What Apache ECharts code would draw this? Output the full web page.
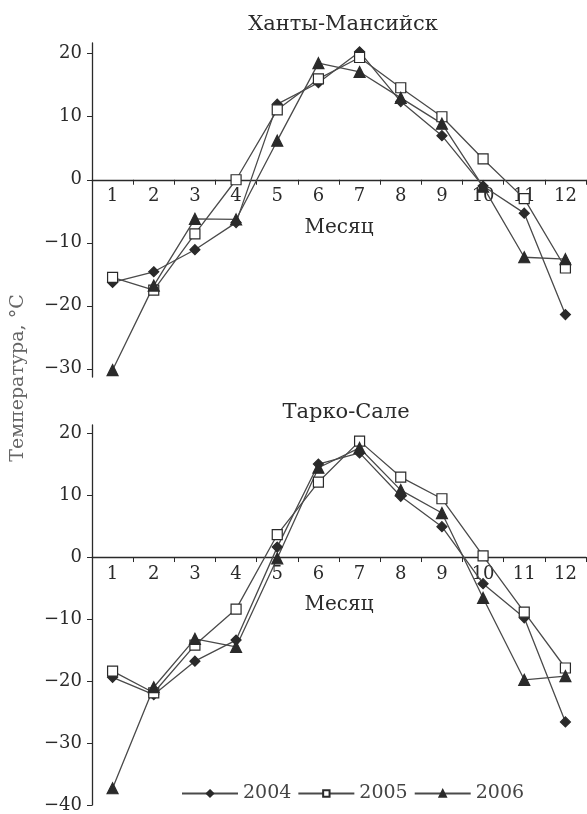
<!DOCTYPE html>
<html lang="ru">
<head>
<meta charset="UTF-8">
<title>Температура</title>
<script src="https://cdn.jsdelivr.net/npm/echarts@6/dist/echarts.min.js"></script>
<style>
  html, body { margin: 0; padding: 0; background: #fff; }
  #ChartId { width: 587px; height: 814px; }
</style>
</head>
<body>
<div id="ChartId"></div>
<script>
    // месяцы и подписи осей
    var months = ['1','2','3','4','5','6','7','8','9','10','11','12'];
    var yTicksTop = [-30, -20, -10, 0, 10, 20];
    var yTicksBottom = [-40, -30, -20, -10, 0, 10, 20];

    // Ханты-Мансийск
    var hm2004 = [-16.3, -14.6, -11.1, -6.8, 12.0, 15.4, 20.3, 12.4, 7.0, -1.0, -5.3, -21.4];
    var hm2005 = [-15.5, -17.5, -8.6, 0.0, 11.1, 16.0, 19.4, 14.6, 10.0, 3.3, -3.0, -14.0];
    var hm2006 = [-30.2, -16.8, -6.2, -6.3, 6.2, 18.5, 17.1, 13.0, 8.9, -1.1, -12.3, -12.6];

    // Тарко-Сале
    var ts2004 = [-19.4, -22.2, -16.8, -13.4, 1.6, 15.0, 16.8, 9.8, 4.9, -4.3, -9.8, -26.6];
    var ts2005 = [-18.4, -21.9, -14.2, -8.4, 3.6, 12.1, 18.7, 12.9, 9.4, 0.2, -8.9, -17.9];
    var ts2006 = [-37.3, -21.0, -13.2, -14.5, -0.2, 14.4, 17.6, 10.8, 7.1, -6.6, -19.8, -19.2];

    var FONT = '"DejaVu Serif", serif';
    var INK = '#2a2a2a';
    var LINE = '#4a4a4a';

    // границы шкал и высоты сеток
    var topRange = { min: -31.3, max: 21.7, top: 43, height: 334 };
    var botRange = { min: -40, max: 21.3, top: 425, height: 380 };

    function xAxisOf(idx, r) {
        // ось X проходит через ноль: сдвигаем её вверх на нужное расстояние
        var shift = (0 - r.min) / (r.max - r.min) * r.height;
        return {
            type: 'category',
            gridIndex: idx,
            data: months,
            position: 'bottom',
            offset: -shift,
            name: 'Месяц',
            nameLocation: 'middle',
            nameGap: 38,
            nameTextStyle: { fontFamily: FONT, fontSize: 20, color: INK },
            axisLine: { onZero: false, lineStyle: { color: INK, width: 1.3 } },
            axisTick: { show: true, length: 5, lineStyle: { color: INK } },
            axisLabel: { fontFamily: FONT, fontSize: 18, color: INK, margin: 8 },
            splitLine: { show: false }
        };
    }
    function yAxisOf(idx, r, ticks) {
        return {
            type: 'value',
            gridIndex: idx,
            min: r.min,
            max: r.max,
            axisLine: { show: true, onZero: false, lineStyle: { color: INK, width: 1.3 } },
            axisTick: { show: true, length: 5, customValues: ticks, lineStyle: { color: INK } },
            axisLabel: {
                fontFamily: FONT, fontSize: 18, color: INK, margin: 10, customValues: ticks,
                formatter: function (v) { return String(v).replace('-', '\u2212'); }
            },
            splitLine: { show: false }
        };
    }
    function lineOf(name, idx, data, symbol, size, fill) {
        return {
            name: name,
            type: 'line',
            xAxisIndex: idx,
            yAxisIndex: idx,
            data: data,
            symbol: symbol,
            symbolSize: size,
            showAllSymbol: true,
            lineStyle: { color: LINE, width: 1.3 },
            itemStyle: { color: fill, borderColor: INK, borderWidth: 1.2 },
            emphasis: { disabled: true },
            animation: false
        };
    }

    var myChart = echarts.init(document.getElementById('ChartId'));
    var option = {
        backgroundColor: '#fff',
        title: [
            { text: 'Ханты-Мансийск', left: 338, top: 9, textAlign: 'center',
              textStyle: { fontFamily: FONT, fontSize: 21, fontWeight: 'normal', color: INK } },
            { text: 'Тарко-Сале', left: 341, top: 397, textAlign: 'center',
              textStyle: { fontFamily: FONT, fontSize: 21, fontWeight: 'normal', color: INK } }
        ],
        grid: [
            { left: 92, right: 1, top: topRange.top, height: topRange.height },
            { left: 92, right: 1, top: botRange.top, height: botRange.height }
        ],
        xAxis: [xAxisOf(0, topRange), xAxisOf(1, botRange)],
        yAxis: [yAxisOf(0, topRange, yTicksTop), yAxisOf(1, botRange, yTicksBottom)],
        legend: {
            data: ['2004', '2005', '2006'],
            left: 176,
            bottom: 6,
            itemWidth: 56,
            itemHeight: 8,
            itemGap: 6,
            textStyle: { fontFamily: FONT, fontSize: 19, color: '#444' },
            inactiveColor: '#999'
        },
        graphic: [
            { type: 'text', x: 18, y: 378, rotation: Math.PI / 2,
              style: { text: 'Температура, °C', fontFamily: FONT, fontSize: 19, fill: '#666',
                       textAlign: 'center', textVerticalAlign: 'middle' } }
        ],
        series: [
            lineOf('2004', 0, hm2004, 'diamond', 10, INK),
            lineOf('2005', 0, hm2005, 'rect', 10, '#fff'),
            lineOf('2006', 0, hm2006, 'triangle', 11, INK),
            lineOf('2004', 1, ts2004, 'diamond', 10, INK),
            lineOf('2005', 1, ts2005, 'rect', 10, '#fff'),
            lineOf('2006', 1, ts2006, 'triangle', 11, INK)
        ]
    };
    myChart.setOption(option, true);
</script>
</body>
</html>
